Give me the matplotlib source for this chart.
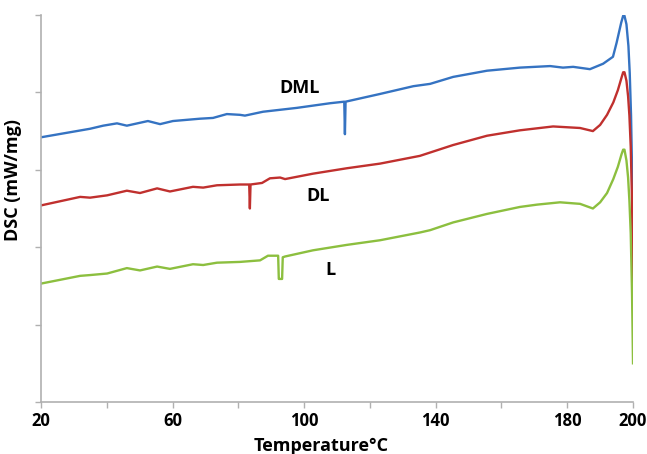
import matplotlib.pyplot as plt

# DSC curves (temperature in degC, signal in arbitrary units)
t_dml = [20, 34.9, 38.9, 43.1, 46.1, 52.5, 56.2, 60.1, 68.3, 72.3, 76.5, 80.5, 82.0, 87.5,
         97.8, 107.9, 112.2, 112.4, 112.6, 123.1, 133.2, 138.3, 145.3, 155.6, 165.6, 174.8,
         178.7, 181.8, 186.9, 190.9, 193.9, 195.0, 196.4, 197.0, 197.4, 198.0, 198.6, 199.0,
         199.4, 199.7, 200.0]
dml = [3.42, 3.53, 3.57, 3.60, 3.57, 3.63, 3.59, 3.63, 3.66, 3.67, 3.72, 3.71, 3.70, 3.75,
       3.80, 3.86, 3.88, 3.46, 3.88, 3.98, 4.08, 4.11, 4.20, 4.28, 4.32, 4.34,
       4.32, 4.33, 4.30, 4.37, 4.46, 4.64, 4.90, 4.99, 4.99, 4.88, 4.60, 4.25,
       3.70, 3.00, 1.70]

t_dl = [20, 31.9, 34.9, 40.1, 46.1, 50.1, 55.3, 59.2, 66.2, 69.3, 73.5, 80.5, 83.3, 83.5, 83.7,
        87.2, 89.6, 92.7, 94.2, 102.7, 113.0, 123.1, 135.2, 145.3, 155.6, 165.6, 175.7, 183.9,
        187.8, 190.0, 192.1, 194.0, 195.4, 196.5, 197.0, 197.4, 198.0, 198.5, 198.9, 199.3,
        199.7, 200.0]
dl = [2.54, 2.65, 2.64, 2.67, 2.73, 2.70, 2.76, 2.72, 2.78, 2.77, 2.80, 2.81, 2.81, 2.50, 2.81,
      2.83, 2.89, 2.90, 2.88, 2.95, 3.02, 3.08, 3.18, 3.32, 3.44, 3.51, 3.56, 3.54,
      3.50, 3.58, 3.71, 3.87, 4.03, 4.19, 4.26, 4.26, 4.15, 3.95, 3.70, 3.30,
      2.60, 1.20]

t_l = [20, 31.9, 34.9, 40.1, 46.1, 50.1, 55.3, 59.2, 66.2, 69.3, 73.5, 80.5, 86.6, 89.0, 92.1,
       92.3, 92.5, 93.3, 93.5, 94.2, 102.7, 113.0, 123.1, 135.2, 138.3, 145.3, 155.6, 165.6,
       170.8, 177.8, 183.9, 187.8, 190.0, 192.1, 194.0, 195.4, 196.5, 197.0, 197.4, 198.0,
       198.5, 198.9, 199.3, 199.7, 200.0]
l = [1.53, 1.63, 1.64, 1.66, 1.73, 1.70, 1.75, 1.72, 1.78, 1.77, 1.80, 1.81, 1.83, 1.89, 1.89,
     1.59, 1.59, 1.59, 1.87, 1.88, 1.96, 2.03, 2.09, 2.19, 2.22, 2.32, 2.43, 2.52,
     2.55, 2.58, 2.56, 2.50, 2.58, 2.70, 2.88, 3.04, 3.20, 3.26, 3.26, 3.12,
     2.90, 2.60, 2.18, 1.40, 0.50]

x_ticks = [20, 40, 60, 80, 100, 120, 140, 160, 180, 200]
x_labels = ['20', '', '60', '', '100', '', '140', '', '180', '200']

plt.rcParams['font.family'] = ['Open Sans', 'DejaVu Sans']

fig = plt.figure(figsize=(6.47, 4.54), dpi=100)
ax = fig.add_axes([0.0634, 0.1145, 0.915, 0.8525])

ax.plot(t_dml, dml, color='#3573c2', lw=1.7)
ax.plot(t_dl, dl, color='#c0302e', lw=1.7)
ax.plot(t_l, l, color='#8cbf3f', lw=1.7)

ax.text(98.7, 4.06, 'DML', fontsize=13, fontweight='bold', ha='center', va='center')
ax.text(104.2, 2.66, 'DL', fontsize=13, fontweight='bold', ha='center', va='center')
ax.text(107.9, 1.71, 'L', fontsize=13, fontweight='bold', ha='center', va='center')

ax.set_xlim(20, 200)
ax.set_ylim(0, 5)
ax.set_xticks(x_ticks)
ax.set_xticklabels(x_labels, fontsize=12, fontweight='bold')
ax.set_yticks([0, 1, 2, 3, 4, 5])
ax.set_yticklabels([])
ax.tick_params(axis='both', direction='out', length=4, color='#b0b0b0', width=1)
ax.tick_params(axis='x', pad=3)

for s in ['top', 'right']:
    ax.spines[s].set_visible(False)
for s in ['left', 'bottom']:
    ax.spines[s].set_color('#b0b0b0')
    ax.spines[s].set_linewidth(1.2)

ax.set_xlabel('Temperature°C', fontsize=13, fontweight='bold')
ax.set_ylabel('DSC (mW/mg)', fontsize=13, fontweight='bold')
ax.xaxis.set_label_coords(0.473, -0.09)
ax.yaxis.set_label_coords(-0.032, 0.574)

fig.savefig('out.png', dpi=100)
